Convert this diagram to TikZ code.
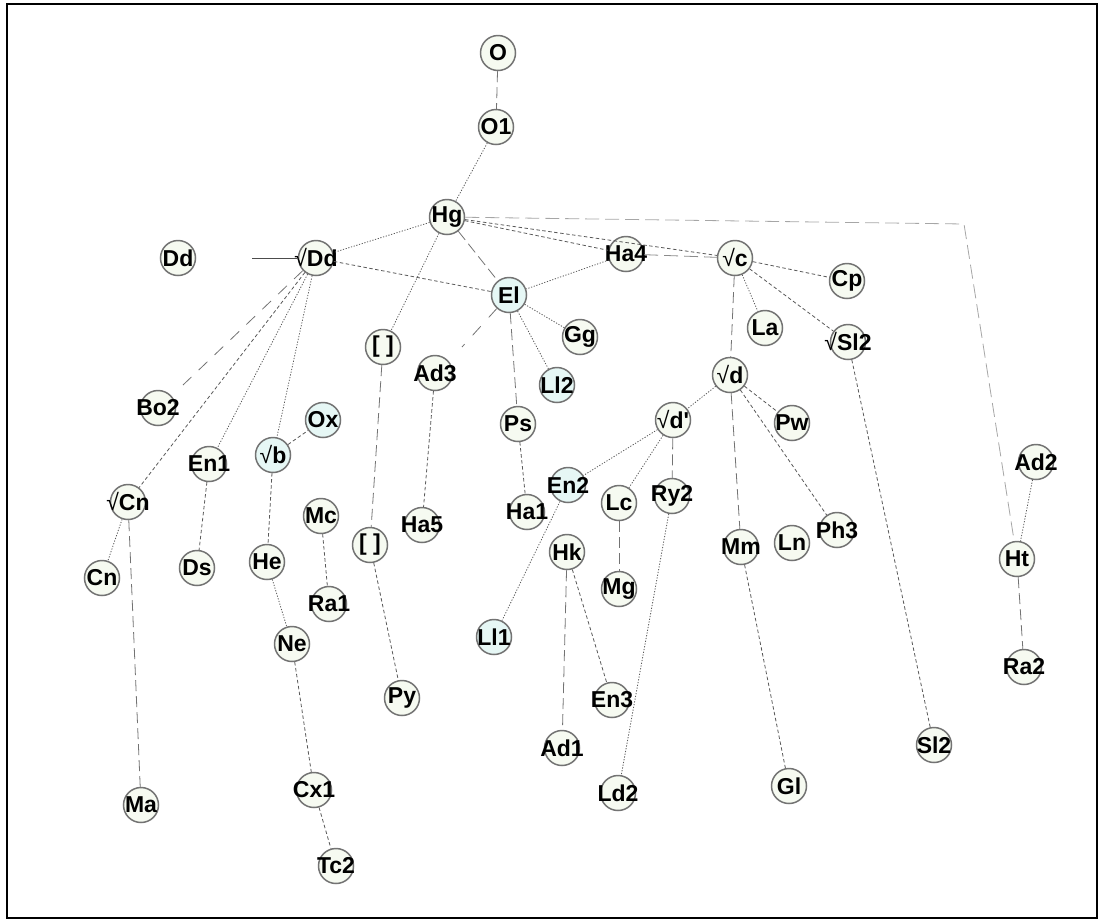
\documentclass[tikz,border=0pt]{standalone}
\usepackage{fontspec}
\setmainfont{Liberation Sans}
\newfontfamily\nf{Liberation Sans}
\definecolor{nfill}{RGB}{246,250,241}
\definecolor{cfill}{RGB}{230,247,245}
\newcommand{\lb}[1]{\makebox[0pt][c]{#1}}
\newcommand{\sq}{{\mdseries √}}
\begin{document}
\begin{tikzpicture}[x=1pt,y=-1pt,
  nd/.style={circle,draw=black!55,line width=1.5pt,fill=nfill,minimum size=35pt,inner sep=0pt,font=\nf\fontsize{23}{23}\selectfont\bfseries,text=black},
  cy/.style={nd,fill=cfill},
  e/.style={line width=0.8pt,draw=black!65},
  dt/.style={e,dash pattern=on 1.2pt off 1.6pt},
  ds/.style={e,dash pattern=on 3.5pt off 2.5pt},
  ld/.style={e,draw=black!55,dash pattern=on 11pt off 5pt},
  lg/.style={e,draw=black!35,dash pattern=on 14pt off 6pt}]
\useasboundingbox (0,0) rectangle (1102,922);
\draw[line width=2pt] (7,4) rectangle (1097,918);
% nodes
\node[nd] (O) at (498,53) {\lb{O}};
\node[nd] (O1) at (496,127) {\lb{O1}};
\node[nd] (Hg) at (447,217) {\lb{Hg}};
\node[nd] (Dd0) at (178,258) {\lb{Dd}};
\node[nd] (Dd) at (316,258) {\lb{\sq Dd}};
\node[nd] (c) at (735,258) {\lb{\sq c}};
\node[nd] (Ha4) at (626,254) {\lb{Ha4}};
\node[cy] (El) at (509,295) {\lb{El}};
\node[nd] (Cp) at (847,281) {\lb{Cp}};
\node[nd] (La) at (765,328) {\lb{La}};
\node[nd] (Sl2a) at (848,342) {\lb{\sq Sl2}};
\node[nd] (Gg) at (580,337) {\lb{Gg}};
\node[cy] (Ll2) at (557,385) {\lb{Ll2}};
\node[nd] (B1) at (383,347) {\lb{[ ]}};
\node[nd] (Ad3) at (435,373) {\lb{Ad3}};
\node[nd] (d) at (730,375) {\lb{\sq d}};
\node[nd] (Bo2) at (158,408) {\lb{Bo2}};
\node[cy] (Ox) at (323,420) {\lb{Ox}};
\node[nd] (Ps) at (518,424) {\lb{Ps}};
\node[nd] (dp) at (673,420) {\lb{\sq d'}};
\node[nd] (Pw) at (792,423) {\lb{Pw}};
\node[cy] (b) at (273,455) {\lb{\sq b}};
\node[nd] (En1) at (209,464) {\lb{En1}};
\node[nd] (Cnr) at (128,502) {\lb{\sq Cn}};
\node[cy] (En2) at (568,485) {\lb{En2}};
\node[nd] (Ad2) at (1036,462) {\lb{Ad2}};
\node[nd] (Ha5) at (422,525) {\lb{Ha5}};
\node[nd] (Ha1) at (527,512) {\lb{Ha1}};
\node[nd] (Lc) at (619,503) {\lb{Lc}};
\node[nd] (Ry2) at (672,496) {\lb{Ry2}};
\node[nd] (Mc) at (321,516) {\lb{Mc}};
\node[nd] (B2) at (370,545) {\lb{[ ]}};
\node[nd] (Mm) at (741,547) {\lb{Mm}};
\node[nd] (Ln) at (792,543) {\lb{Ln}};
\node[nd] (Ph3) at (837,530) {\lb{Ph3}};
\node[nd] (Hk) at (567,552) {\lb{Hk}};
\node[nd] (Cn) at (102,578) {\lb{Cn}};
\node[nd] (Ds) at (197,568) {\lb{Ds}};
\node[nd] (He) at (267,562) {\lb{He}};
\node[nd] (Ht) at (1017,559) {\lb{Ht}};
\node[nd] (Ra1) at (329,604) {\lb{Ra1}};
\node[nd] (Mg) at (619,589) {\lb{Mg}};
\node[nd] (Ne) at (292,644) {\lb{Ne}};
\node[cy] (Ll1) at (494,637) {\lb{Ll1}};
\node[nd] (Ra2) at (1024,667) {\lb{Ra2}};
\node[nd] (Py) at (402,698) {\lb{Py}};
\node[nd] (En3) at (612,700) {\lb{En3}};
\node[nd] (Ad1) at (562,748) {\lb{Ad1}};
\node[nd] (Sl2) at (934,745) {\lb{Sl2}};
\node[nd] (Ld2) at (618,793) {\lb{Ld2}};
\node[nd] (Gl) at (789,786) {\lb{Gl}};
\node[nd] (Ma) at (141,805) {\lb{Ma}};
\node[nd] (Cx1) at (314,790) {\lb{Cx1}};
\node[nd] (Tc2) at (336,866) {\lb{Tc2}};
\coordinate (ddin) at (252,258);
\coordinate (bend) at (964,224);
\coordinate (elad) at (462,347);
\coordinate (ddbo) at (183,385);
% edges
\draw[e,draw=black!70] (ddin) -- (Dd.west);
\draw[ld] (O) -- (O1);
\draw[dt] (O1) -- (Hg);
\draw[dt] (Hg) -- (Dd);
\draw[ld] (Hg) -- (El);
\draw[dt] (Hg) -- (B1);
\draw[ds] (Hg) -- (Ha4);
\draw[ds] (Hg) -- (c);
\draw[lg] (Hg) -- (bend) -- (Ht);
\draw[dt] (Ad2) -- (Ht);
\draw[ld] (Ht) -- (Ra2);
\draw[ds] (Dd) -- (El);
\draw[lg,draw=black!45] (Ha4) -- (c);
\draw[dt] (Ha4) -- (El);
\draw[dt] (El) -- (Gg);
\draw[dt] (El) -- (Ll2);
\draw[ld] (El) -- (Ps);
\draw[ld,dash pattern=on 12pt off 12pt] (El) -- (elad);
\draw[ds] (c) -- (Cp);
\draw[dt] (c) -- (La);
\draw[ds] (c) -- (Sl2a);
\draw[ld] (c) -- (d);
\draw[dt] (d) -- (dp);
\draw[ds] (d) -- (Pw);
\draw[ds] (d) -- (Ph3);
\draw[ld] (d) -- (Mm);
\draw[dt] (dp) -- (En2);
\draw[dt] (dp) -- (Lc);
\draw[ld] (dp) -- (Ry2);
\draw[ld] (Lc) -- (Mg);
\draw[dt] (Ry2) -- (Ld2);
\draw[dt] (En2) -- (Ll1);
\draw[ld] (Hk) -- (Ad1);
\draw[ds] (Hk) -- (En3);
\draw[ds] (Mm) -- (Gl);
\draw[ds] (Sl2a) -- (Sl2);
\draw[ds] (Ad3) -- (Ha5);
\draw[ds] (Ps) -- (Ha1);
\draw[ld] (B1) -- (B2);
\draw[ds] (B2) -- (Py);
\draw[ds] (Mc) -- (Ra1);
\draw[ds] (b) -- (Ox);
\draw[ds] (b) -- (He);
\draw[dt] (He) -- (Ne);
\draw[ds] (Ne) -- (Cx1);
\draw[ds] (Cx1) -- (Tc2);
\draw[ld,dash pattern=on 12pt off 10pt] (Dd) -- (ddbo);
\draw[ds] (Dd) -- (Cnr);
\draw[dt] (Dd) -- (En1);
\draw[dt] (Dd) -- (b);
\draw[dt] (Cnr) -- (Cn);
\draw[ld] (Cnr) -- (Ma);
\draw[ds] (En1) -- (Ds);
\end{tikzpicture}
\end{document}
